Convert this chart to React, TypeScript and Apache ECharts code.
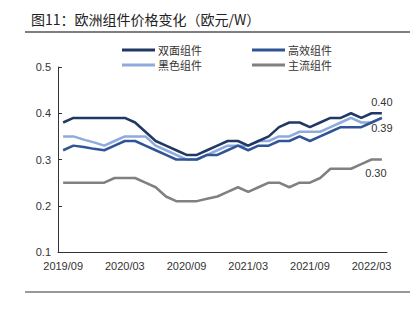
import React, { useEffect, useRef } from "react";
import * as echarts from "echarts";

const categories = [
  "2019/09","2019/10","2019/11","2019/12","2020/01","2020/02","2020/03","2020/04",
  "2020/05","2020/06","2020/07","2020/08","2020/09","2020/10","2020/11","2020/12",
  "2021/01","2021/02","2021/03","2021/04","2021/05","2021/06","2021/07","2021/08",
  "2021/09","2021/10","2021/11","2021/12","2022/01","2022/02","2022/03","2022/04",
];

const bifacial = [
  0.38,0.39,0.39,0.39,0.39,0.39,0.39,0.38,0.36,0.34,0.33,0.32,0.31,0.31,0.32,0.33,
  0.34,0.34,0.33,0.34,0.35,0.37,0.38,0.38,0.37,0.38,0.39,0.39,0.40,0.39,0.40,0.40,
];
const highEff = [
  0.32,0.33,0.327,0.323,0.32,0.33,0.34,0.34,0.33,0.32,0.31,0.30,0.30,0.30,0.31,0.31,
  0.32,0.33,0.32,0.33,0.33,0.34,0.34,0.35,0.34,0.35,0.36,0.37,0.37,0.37,0.38,0.39,
];
const black = [
  0.35,0.35,0.343,0.337,0.33,0.34,0.35,0.35,0.35,0.33,0.32,0.31,0.30,0.30,0.31,0.32,
  0.33,0.33,0.33,0.34,0.34,0.35,0.35,0.36,0.36,0.36,0.37,0.38,0.39,0.38,0.38,0.39,
];
const mainstream = [
  0.25,0.25,0.25,0.25,0.25,0.26,0.26,0.26,0.25,0.24,0.22,0.21,0.21,0.21,0.215,0.22,
  0.23,0.24,0.23,0.24,0.25,0.25,0.24,0.25,0.25,0.26,0.28,0.28,0.28,0.29,0.30,0.30,
];

const yTicks = [0.1, 0.2, 0.3, 0.4, 0.5];

const names = ["双面组件", "高效组件", "黑色组件", "主流组件"];
const colors = ["#1F3864", "#2F5597", "#8FAADC", "#808080"];
const endLabels = ["0.40", null, "0.39", "0.30"];

const FONT = "'Liberation Sans', Arial, sans-serif";
const CJK = "'Noto Sans CJK SC', sans-serif";

export default function App() {
  const ref = useRef<HTMLDivElement>(null);
  useEffect(() => {
    document.body.style.margin = "0";
    const chart = echarts.init(ref.current!, null, { renderer: "svg" });
    const labelStyle = { color: "#333", fontSize: 11, fontFamily: FONT };
    const seriesData = [bifacial, highEff, black, mainstream];
    const labelPlacement: any[] = [
      { position: "top", distance: 5 },
      null,
      { position: "bottom", distance: 4 },
      { position: "bottom", distance: 7, offset: [-6, 0] },
    ];
    const legendPos = [
      { left: 122, top: 44 },
      { left: 252, top: 44 },
      { left: 122, top: 59 },
      { left: 252, top: 59 },
    ];
    chart.setOption({
      animation: false,
      backgroundColor: "#fff",
      title: {
        text: "图11：欧洲组件价格变化（欧元/W）",
        left: 26,
        top: 7,
        textStyle: { fontFamily: CJK, fontSize: 14, fontWeight: "normal", color: "#222" },
      },
      graphic: [
        { type: "line", shape: { x1: 25, y1: 32, x2: 410, y2: 32 }, style: { stroke: "#555", lineWidth: 1.5 } },
        { type: "line", shape: { x1: 25, y1: 292, x2: 410, y2: 292 }, style: { stroke: "#333", lineWidth: 1 } },
      ],
      legend: names.map((n, i) => ({
        data: [n],
        left: legendPos[i].left,
        top: legendPos[i].top,
        icon: "rect",
        itemWidth: 33,
        itemHeight: 3,
        itemGap: 0,
        padding: 0,
        textStyle: { fontFamily: CJK, fontSize: 11, lineHeight: 12, height: 12, color: "#333", padding: [0, 0, 0, -2] },
      })),
      grid: { left: 58, right: 23, top: 67, bottom: 71 },
      xAxis: {
        type: "category",
        data: categories,
        boundaryGap: true,
        axisLine: { lineStyle: { color: "#333", width: 1 } },
        axisTick: { inside: true, length: 3, interval: 5, lineStyle: { color: "#333" } },
        axisLabel: { interval: 5, margin: 8, fontSize: 11, color: "#333", fontFamily: FONT },
        splitLine: { show: false },
      },
      yAxis: {
        type: "value",
        min: yTicks[0],
        max: yTicks[yTicks.length - 1],
        interval: 0.1,
        axisLine: { show: true, lineStyle: { color: "#333", width: 1 } },
        axisTick: { show: true, inside: true, length: 4, lineStyle: { color: "#333" } },
        axisLabel: {
          margin: 7,
          fontSize: 11,
          color: "#333",
          fontFamily: FONT,
          formatter: (v: number) => v.toFixed(1),
        },
        splitLine: { show: false },
      },
      series: names.map((n, i) => {
        const data = seriesData[i];
        const last = data.length - 1;
        const s: any = {
          name: n,
          type: "line",
          data,
          symbol: "none",
          color: colors[i],
          lineStyle: { width: 2.5, color: colors[i] },
          z: 10 - i,
        };
        if (endLabels[i]) {
          s.markPoint = {
            symbol: "circle",
            symbolSize: 1,
            itemStyle: { color: "rgba(0,0,0,0)" },
            data: [
              {
                coord: [categories[last], data[last]],
                label: { show: true, formatter: endLabels[i], ...labelStyle, ...labelPlacement[i] },
              },
            ],
          };
        }
        return s;
      }),
    });
    return () => chart.dispose();
  }, []);
  return (
    <div
      ref={ref}
      style={{ position: "absolute", left: 0, top: 0, width: 410, height: 323 }}
    />
  );
}
